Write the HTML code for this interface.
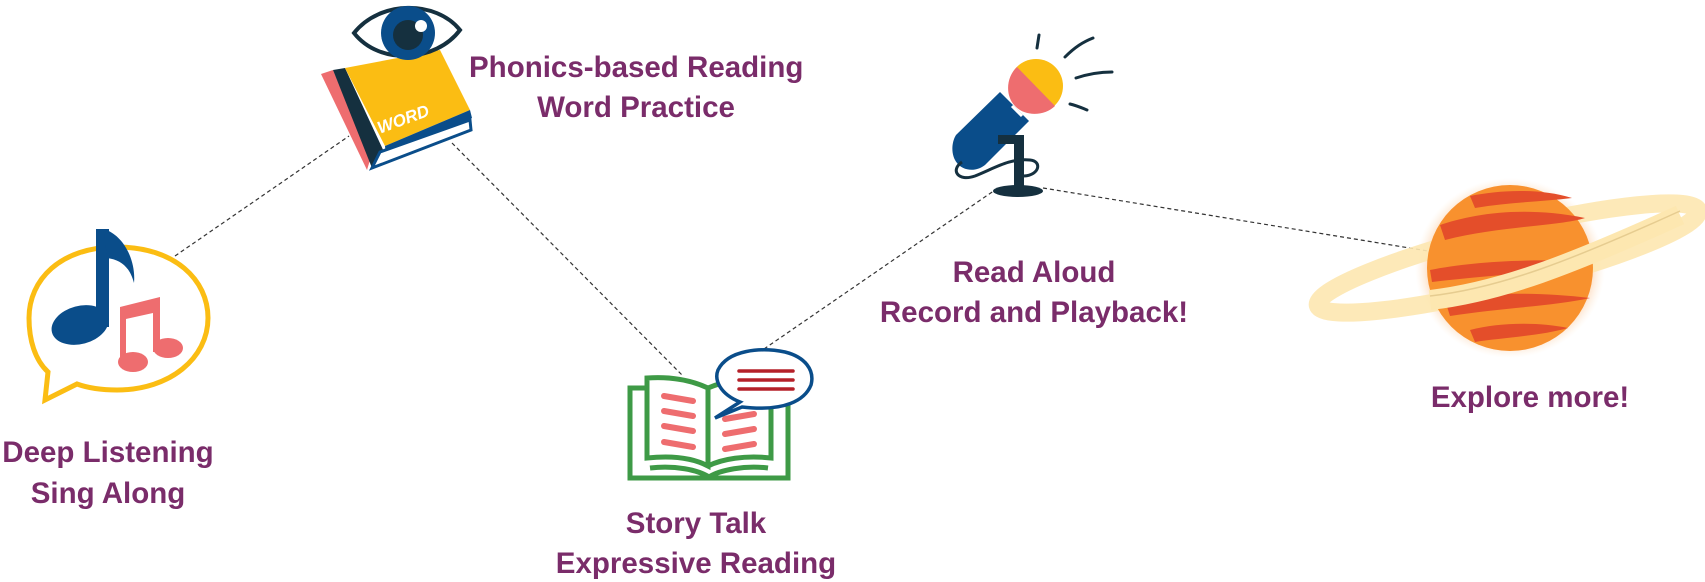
<!DOCTYPE html>
<html><head><meta charset="utf-8"><style>
html,body{margin:0;padding:0;background:#fff;}
svg{display:block;}
text{font-family:"Liberation Sans",sans-serif;font-weight:bold;fill:#7a2c6a;font-size:29.5px;}
</style></head><body>
<svg width="1705" height="582" viewBox="0 0 1705 582" xmlns="http://www.w3.org/2000/svg">
<defs>
<radialGradient id="glow" cx="50%" cy="50%" r="50%">
<stop offset="80%" stop-color="#f7a35a" stop-opacity="0.6"/><stop offset="100%" stop-color="#fde0c0" stop-opacity="0"/>
</radialGradient>
</defs>
<!-- connectors -->
<g stroke="#333" stroke-width="1.2" stroke-dasharray="4,3" fill="none">
<line x1="175" y1="256" x2="349" y2="136"/>
<line x1="452" y1="143" x2="682" y2="375"/>
<line x1="764" y1="349" x2="995" y2="190"/>
<line x1="1043" y1="188" x2="1428" y2="251"/>
</g>
<!-- music bubble -->
<path d="M117,247 C175,247 208,280 208,318 C208,358 170,390 117,390 C100,390 88,388 77,384 L45,400 L48,372 C35,360 29,340 29,318 C29,280 60,247 117,247 Z" fill="#fff" stroke="#fbbd13" stroke-width="5"/>
<ellipse cx="80" cy="325" rx="29" ry="19" fill="#0a4d8a" transform="rotate(-15 80 325)"/>
<rect x="96" y="229" width="13" height="98" fill="#0a4d8a"/>
<path d="M104,229 C125,236 136,262 134,283 C130,268 122,260 107,258 Z" fill="#0a4d8a"/>
<path d="M120,307 L160,297 L160,352 L153,352 L153,313 L126,319 L126,365 L120,365 Z" fill="#ee6d6f"/>
<ellipse cx="133" cy="362" rx="15" ry="10" fill="#ee6d6f"/>
<ellipse cx="168" cy="348" rx="15" ry="10" fill="#ee6d6f"/>
<!-- word book -->
<g>
<polygon points="321,74 333,70 370,160 367,170" fill="#ee6d6f"/>
<polygon points="333,70 345,68 385,154 372,168" fill="#15303f"/>
<polygon points="345,68 440,50 470,110 385,146" fill="#fbbd13"/>
<polygon points="385,146 470,110 472,118 386,156" fill="#0a4d8a"/>
<polygon points="380,152 470,120 471,130 372,168" fill="#fff" stroke="#0a4d8a" stroke-width="3"/>
<text x="375" y="124" transform="rotate(-20 405 115)" style="fill:#fff;font-size:17px;font-style:italic">WORD</text>
</g>
<!-- eye -->
<path d="M354,33 C380,0 436,0 460,30 C436,62 380,66 354,33 Z" fill="#fff" stroke="#15303f" stroke-width="4"/>
<circle cx="408" cy="33" r="27" fill="#0a4d8a"/>
<circle cx="408" cy="35" r="15" fill="#15303f"/>
<circle cx="421" cy="26" r="6" fill="#fff"/>
<!-- open book -->
<g fill="none" stroke="#3e9a46" stroke-width="5">
<path d="M647,388 L630,388 L630,478 L788,478 L788,388 L771,388"/>
<path d="M647,378 C675,376 695,382 708,388 L708,466 C695,459 675,455 647,458 Z"/>
<path d="M708,388 C722,382 745,376 771,378 L771,458 C745,455 722,459 708,466"/>
<path d="M650,468 C675,465 698,470 709,477 C720,470 745,465 768,468"/>
</g>
<g stroke="#ee6d6f" stroke-width="6" stroke-linecap="round">
<line x1="664" y1="396" x2="693" y2="401"/><line x1="664" y1="411" x2="693" y2="416"/>
<line x1="664" y1="426" x2="693" y2="431"/><line x1="664" y1="442" x2="693" y2="447"/>
<line x1="725" y1="419" x2="754" y2="414"/><line x1="725" y1="434" x2="754" y2="429"/>
<line x1="725" y1="449" x2="754" y2="444"/>
</g>
<path d="M740,402 C720,394 714,380 718,370 C728,350 760,347 785,352 C805,357 815,370 811,385 C805,400 785,412 742,407 L715,418 Z" fill="#fff" stroke="#0a4d8a" stroke-width="3.5"/>
<g stroke="#b52028" stroke-width="3.5" stroke-linecap="round">
<line x1="739" y1="371" x2="793" y2="371"/><line x1="739" y1="380" x2="793" y2="380"/><line x1="739" y1="389" x2="793" y2="389"/>
</g>
<!-- mic -->
<g>
<line x1="1039" y1="35" x2="1037" y2="48" stroke="#15303f" stroke-width="3" stroke-linecap="round"/>
<path d="M1065,57 C1075,47 1083,42 1093,38" stroke="#15303f" stroke-width="3" fill="none" stroke-linecap="round"/>
<path d="M1076,78 C1088,74 1100,72 1112,72" stroke="#15303f" stroke-width="3" fill="none" stroke-linecap="round"/>
<path d="M1070,104 C1078,106 1082,108 1087,110" stroke="#15303f" stroke-width="3" fill="none" stroke-linecap="round"/>
<path d="M956,135 L1000,92 L1029,121 L985,165 C975,173 962,170 957,163 C951,156 951,143 956,135 Z" fill="#0a4d8a"/>
<circle cx="1036" cy="86" r="27" fill="#fbbd13"/>
<path d="M1017,67 L1055,106 C1045,116 1025,117 1015,106 C1005,96 1006,77 1017,67 Z" fill="#ee6d6f"/>
<line x1="1012" y1="106" x2="1022" y2="116" stroke="#fff" stroke-width="3"/>
<rect x="998" y="135" width="25" height="9" fill="#15303f"/>
<rect x="1014" y="135" width="10" height="55" fill="#15303f"/>
<path d="M962,162 C950,170 958,182 975,176 C995,168 1010,158 1030,160 C1042,161 1040,175 1024,176" stroke="#15303f" stroke-width="3" fill="none"/>
<ellipse cx="1018" cy="191" rx="25" ry="6" fill="#15303f"/>
</g>
<!-- planet -->
<ellipse cx="1510" cy="268" rx="95" ry="90" fill="url(#glow)"/>
<ellipse cx="1508" cy="258" rx="196" ry="28" transform="rotate(-14 1508 258)" fill="none" stroke="#fde7b0" stroke-width="18" opacity="0.9"/>
<circle cx="1510" cy="268" r="83" fill="#f8912e"/>
<g fill="#e44e2a">
<path d="M1440,225 C1470,215 1520,205 1585,218 C1560,226 1500,226 1445,240 Z"/>
<path d="M1470,196 C1500,190 1540,188 1572,198 C1540,202 1510,202 1475,208 Z"/>
<path d="M1430,270 C1470,262 1530,258 1590,262 C1560,272 1500,274 1432,282 Z"/>
<path d="M1445,300 C1480,292 1540,292 1590,298 C1555,306 1500,308 1450,316 Z"/>
<path d="M1470,330 C1500,322 1540,322 1568,328 C1540,336 1500,338 1475,342 Z"/>
</g>
<path d="M1430,300 C1500,292 1570,265 1680,215" stroke="#fde7b0" stroke-width="20" fill="none"/>
<path d="M1430,296 C1500,288 1570,261 1680,211" stroke="#e6cc90" stroke-width="1.5" fill="none"/>
<!-- labels -->
<text x="469" y="77">Phonics-based Reading</text>
<text x="636" y="117" text-anchor="middle">Word Practice</text>
<text x="1034" y="282" text-anchor="middle">Read Aloud</text>
<text x="1034" y="322" text-anchor="middle">Record and Playback!</text>
<text x="1530" y="407" text-anchor="middle">Explore more!</text>
<text x="108" y="462" text-anchor="middle">Deep Listening</text>
<text x="108" y="503" text-anchor="middle">Sing Along</text>
<text x="696" y="533" text-anchor="middle">Story Talk</text>
<text x="696" y="573" text-anchor="middle">Expressive Reading</text>
</svg>
</body></html>
